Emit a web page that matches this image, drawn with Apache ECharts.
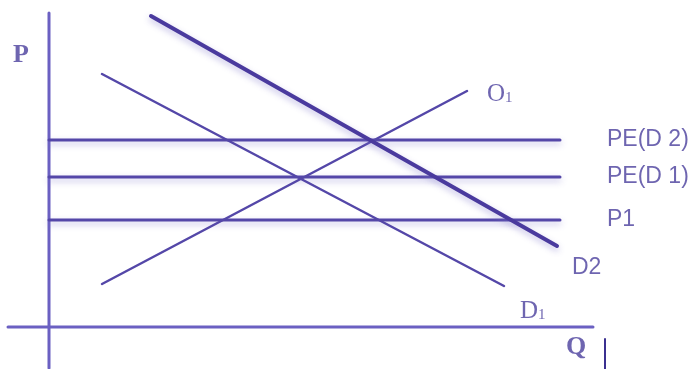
<!DOCTYPE html>
<html><head><meta charset="utf-8">
<script src="https://cdn.jsdelivr.net/npm/echarts@6/dist/echarts.min.js"></script>
<style>html,body{margin:0;padding:0;background:#fff}#c{width:698px;height:369px}</style>
</head><body><div id="c"></div>
<script>
// Curves (Q = quantity, P = price) — endpoints
const d2Q = [25.5, 127];     const d2P = [77.75, 20.25];
const d1Q = [13.25, 113.75]; const d1P = [63.25, 10.25];
const o1Q = [13.25, 104.5];  const o1P = [10.75, 59];
const priceLevels = [46.75, 37.5, 26.75];   // PE(D2), PE(D1), P1
const priceLevelNames = ['PE(D 2)', 'PE(D 1)', 'P1'];
const priceLineQ = [0, 127.75];
const axisPQ = [0, 0];       const axisPP = [-10.25, 78.5];
const axisQQ = [-10.25, 136]; const axisQP = [0, 0];
const tickQQ = [139, 139];   const tickQP = [-3, -10.5];
// label anchors
const labelNames = ['P', 'O1', 'D2', 'D1', 'Q'];
const labelQ = [-9, 109.5, 130.75, 117.75, 129.25];
const labelP = [68, 58.25, 14.75, 4, -5];
const levelLabelQ = 139.5;

const lineCol = '#5447a8';
const axisCol = '#6b60c2';
const textCol = '#4a3f9c';
const serif = '"Liberation Serif","DejaVu Serif",serif';
const sans = '"Liberation Sans","DejaVu Sans",sans-serif';

function seg(qs, ps, width, color, shadow) {
  return {
    type: 'line', symbol: 'none', silent: true, animation: false,
    data: qs.map((q, i) => [q, ps[i]]),
    lineStyle: Object.assign({ width: width, color: color, cap: 'round' },
      shadow ? { shadowColor: 'rgba(120,110,200,0.45)', shadowBlur: 6, shadowOffsetY: 3 } : {})
  };
}

const series = [];
series.push(seg(axisPQ, axisPP, 3, axisCol));
series.push(seg(axisQQ, axisQP, 3, axisCol));
series.push(seg(tickQQ, tickQP, 2, '#3b3090'));
priceLevels.forEach(p => series.push(seg(priceLineQ, [p, p], 3, lineCol, true)));
series.push(seg(o1Q, o1P, 2.5, lineCol));
series.push(seg(d1Q, d1P, 2.5, lineCol));
series.push(seg(d2Q, d2P, 4, '#4a3a9e', true));

const rich = {
  s: { fontFamily: serif, fontSize: 25, color: textCol },
  sb: { fontFamily: serif, fontSize: 26, fontWeight: 'bold', color: textCol },
  sub: { fontFamily: serif, fontSize: 15, color: textCol, padding: [9, 0, 0, 0] },
  a: { fontFamily: sans, fontSize: 23, color: textCol }
};
const fmt = {
  'P': '{sb|P}', 'O1': '{s|O}{sub|1}', 'D2': '{a|D2}', 'D1': '{s|D}{sub|1}', 'Q': '{sb|Q}'
};
series.push({
  type: 'scatter', symbolSize: 0, silent: true, animation: false,
  data: labelNames.map((n, i) => ({ value: [labelQ[i], labelP[i]], name: n })),
  label: { show: true, position: 'right', distance: 0, formatter: p => fmt[p.name], rich: rich }
});
series.push({
  type: 'scatter', symbolSize: 0, silent: true, animation: false,
  data: priceLevels.map((p, i) => ({ value: [levelLabelQ, p], name: priceLevelNames[i] })),
  label: { show: true, position: 'right', distance: 0, formatter: p => '{a|' + p.name + '}', rich: rich }
});

const chart = echarts.init(document.getElementById('c'), null, { renderer: 'canvas' });
chart.setOption({
  animation: false,
  grid: { left: 0, right: 0, top: 0, bottom: 0 },
  xAxis: { type: 'value', min: -12.25, max: 162.25, show: false },
  yAxis: { type: 'value', min: -10.5, max: 81.75, show: false },
  series: series
});
</script></body></html>
